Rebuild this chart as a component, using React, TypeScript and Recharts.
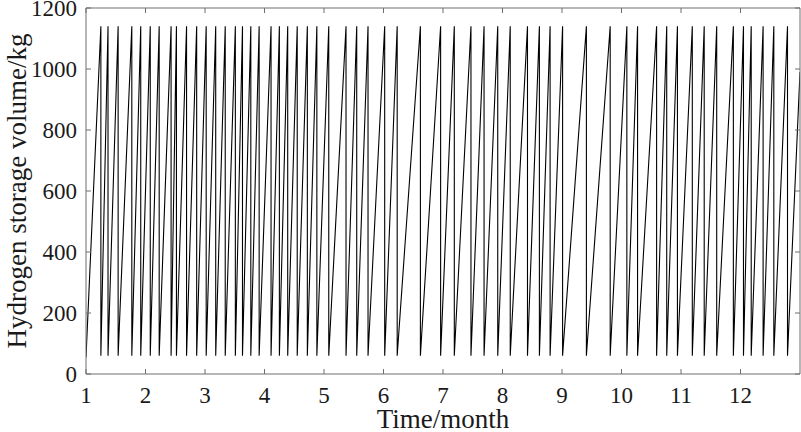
import { LineChart, Line, XAxis, YAxis } from 'recharts'

// months at which the tank is emptied (drop from full back to the floor)
const dropMonths = [
  1.25, 1.37, 1.54, 1.77, 1.92, 2.08, 2.23, 2.43, 2.52, 2.69, 2.86,
  3.02, 3.18, 3.34, 3.51, 3.63, 3.77, 3.91, 4.11, 4.25, 4.39, 4.55, 4.72, 4.88,
  5.08, 5.37, 5.55, 5.74, 6.02, 6.23, 6.62, 6.96,
  7.19, 7.47, 7.69, 7.92, 8.13, 8.42, 8.62, 8.8,
  9.01, 9.41, 9.81, 10.09, 10.27, 10.59, 10.76, 10.94,
  11.19, 11.39, 11.6, 11.88, 12.05, 12.18, 12.38, 12.56, 12.79,
]
const fullLevel = 1140
const floorLevel = 60
const startValue = 55
const endValue = 990

const xTicks = [1, 2, 3, 4, 5, 6, 7, 8, 9, 10, 11, 12]
const yTicks = [0, 200, 400, 600, 800, 1000, 1200]

const data: { t: number; v: number }[] = [{ t: 1, v: startValue }]
dropMonths.forEach((d) => {
  data.push({ t: d, v: fullLevel })
  data.push({ t: d, v: floorLevel })
})
data.push({ t: 13, v: endValue })

const AXIS = '#6e6e6e'
const INK = '#1a1a1a'
const FONT = '"Liberation Serif", "Times New Roman", serif'
const blank = () => ''

// ticks drawn by hand so the serif font sticks
const XTick = ({ x, y, payload }: any) => (
  <text x={x} y={y} dy="0.71em" textAnchor="middle" fill={INK} style={{ fontFamily: FONT, fontSize: 23 }}>
    {payload.value}
  </text>
)

const YTick = ({ x, y, payload }: any) => (
  <text x={x} y={y} dy="0.34em" textAnchor="end" fill={INK} style={{ fontFamily: FONT, fontSize: 23 }}>
    {payload.value}
  </text>
)

export default function App() {
  return (
    <div
      style={{
        position: 'absolute',
        left: 0,
        top: 0,
        width: 801,
        height: 432,
        background: '#fff',
        fontFamily: FONT,
      }}
    >
      <LineChart width={801} height={432} data={data} margin={{ top: 0, right: 0, bottom: 0, left: 0 }}>
        <XAxis
          dataKey="t"
          type="number"
          domain={[1, 13]}
          ticks={xTicks}
          interval={0}
          allowDataOverflow
          height={58}
          tickSize={-5}
          tickMargin={18}
          tick={<XTick />}
          stroke={AXIS}
          label={{
            value: 'Time/month',
            position: 'insideBottom',
            offset: 4,
            style: { fill: INK, fontSize: 27, fontFamily: FONT },
          }}
        />
        <XAxis
          xAxisId="top"
          dataKey="t"
          orientation="top"
          type="number"
          domain={[1, 13]}
          ticks={xTicks}
          interval={0}
          allowDataOverflow
          height={8}
          tickSize={-5}
          tickFormatter={blank}
          stroke={AXIS}
        />
        <YAxis
          dataKey="v"
          type="number"
          domain={[0, 1200]}
          ticks={yTicks}
          interval={0}
          allowDataOverflow
          width={86}
          tickSize={-5}
          tickMargin={14}
          tick={<YTick />}
          stroke={AXIS}
          label={{
            value: 'Hydrogen storage volume/kg',
            angle: -90,
            position: 'insideLeft',
            offset: 16,
            style: { fill: INK, fontSize: 27, fontFamily: FONT, textAnchor: 'middle' },
          }}
        />
        <YAxis
          yAxisId="right"
          dataKey="v"
          orientation="right"
          type="number"
          domain={[0, 1200]}
          ticks={yTicks}
          interval={0}
          allowDataOverflow
          width={1}
          tickSize={-5}
          tickFormatter={blank}
          stroke={AXIS}
        />
        <Line
          type="linear"
          dataKey="v"
          stroke="#000"
          strokeWidth={1.1}
          dot={false}
          isAnimationActive={false}
        />
      </LineChart>
    </div>
  )
}
